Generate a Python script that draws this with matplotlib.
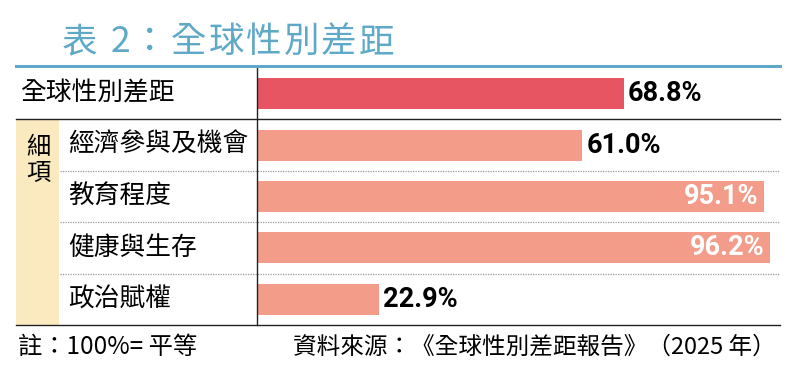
import matplotlib
matplotlib.use("Agg")
import matplotlib.pyplot as plt
import matplotlib.patches as patches
from matplotlib.lines import Line2D
from matplotlib.transforms import blended_transform_factory

plt.rcParams['font.family'] = ['Noto Sans CJK TC', 'DejaVu Sans']

# data
categories = ["全球性別差距", "經濟參與及機會", "教育程度", "健康與生存", "政治賦權"]
values = [68.8, 61.0, 95.1, 96.2, 22.9]
group_label = "細\n項"
title_body = "全球性別差距"
note_text = "註：100%= 平等"
source_text = "資料來源：《全球性別差距報告》（2025 年）"

TEAL = "#5ea8c8"
RED = "#e85562"
SALMON = "#f29c89"
YELLOW = "#fbe9c0"

W, H = 793, 383
fig = plt.figure(figsize=(W / 100, H / 100), dpi=100)

def fx(px):
    return px / W

def fy(py):
    return 1 - py / H

# bar axes: 0% at x=257px, 100% at x=790px, rows between y=68 and y=325
ax = fig.add_axes([fx(257), fy(325), fx(790) - fx(257), (325 - 68) / H])
ax.set_xlim(0, 100)
ax.set_ylim(len(categories) - 0.5, -0.5)
ypos = list(range(len(categories)))
colors = [RED] + [SALMON] * (len(categories) - 1)
ax.barh(ypos, values, height=0.6, color=colors, left=0)
for s in ["top", "right", "bottom"]:
    ax.spines[s].set_visible(False)
ax.spines["left"].set_linewidth(1.0)
ax.spines["left"].set_color("#222222")
ax.set_xticks([])
ax.set_yticks([])
ax.patch.set_alpha(0)

for y, v in zip(ypos, values):
    lab = f"{v:.1f}%"
    if v > 90:
        ax.annotate(lab, (v, y), xytext=(-4, 0), textcoords="offset points",
                    ha="right", va="center", color="white", fontsize=19.5,
                    fontweight="bold", family="Roboto")
    else:
        ax.annotate(lab, (v, y), xytext=(3, 0), textcoords="offset points",
                    ha="left", va="center", color="black", fontsize=19.5,
                    fontweight="bold", family="Roboto")

tr = blended_transform_factory(fig.transFigure, ax.transData)

# yellow group box
ax.add_patch(patches.Rectangle((fx(16), 0.5), fx(59) - fx(16), len(categories) - 1,
                               transform=tr, facecolor=YELLOW, edgecolor="none",
                               clip_on=False, zorder=0))
fig.text(fx(38), fy(160), group_label, ha="center", va="center", fontsize=17.5,
         linespacing=0.95)

# category labels
for y, c in zip(ypos, categories):
    x0 = fx(20) if y == 0 else fx(68)
    ax.text(x0, y, c, transform=tr, ha="left", va="center", fontsize=18.5,
            color="black", clip_on=False)

# separators
fig.add_artist(Line2D([fx(16), fx(780)], [fy(66), fy(66)], color=TEAL, lw=2.2))
ax.add_line(Line2D([fx(16), fx(780)], [0.5, 0.5], transform=tr, color="#222222",
                   lw=1.0, clip_on=False))
ax.add_line(Line2D([fx(16), fx(780)], [len(categories) - 0.5] * 2, transform=tr,
                   color="#222222", lw=1.0, clip_on=False))
for y in ypos[1:-1]:
    ax.add_line(Line2D([fx(60), fx(780)], [y + 0.5, y + 0.5], transform=tr,
                       color="#999999", lw=0.9, ls=(0, (1, 1)), clip_on=False))

# title with wide letter spacing
fig.text(fx(62), fy(42), "表", ha="left", va="center", fontsize=25.5, color=TEAL)
fig.text(fx(111), fy(42), "2", ha="left", va="center", fontsize=25.5, color=TEAL)
fig.text(fx(150), fy(42), "：", ha="center", va="center", fontsize=25.5, color=TEAL)
for i, ch in enumerate(title_body):
    fig.text(fx(171 + i * 37.5), fy(42), ch, ha="left", va="center", fontsize=25.5,
             color=TEAL)

# footnotes
fig.text(fx(18), fy(347), note_text, ha="left", va="center", fontsize=17.5)
fig.text(fx(776), fy(347), source_text, ha="right", va="center", fontsize=17)

fig.savefig("out.png", dpi=100)
